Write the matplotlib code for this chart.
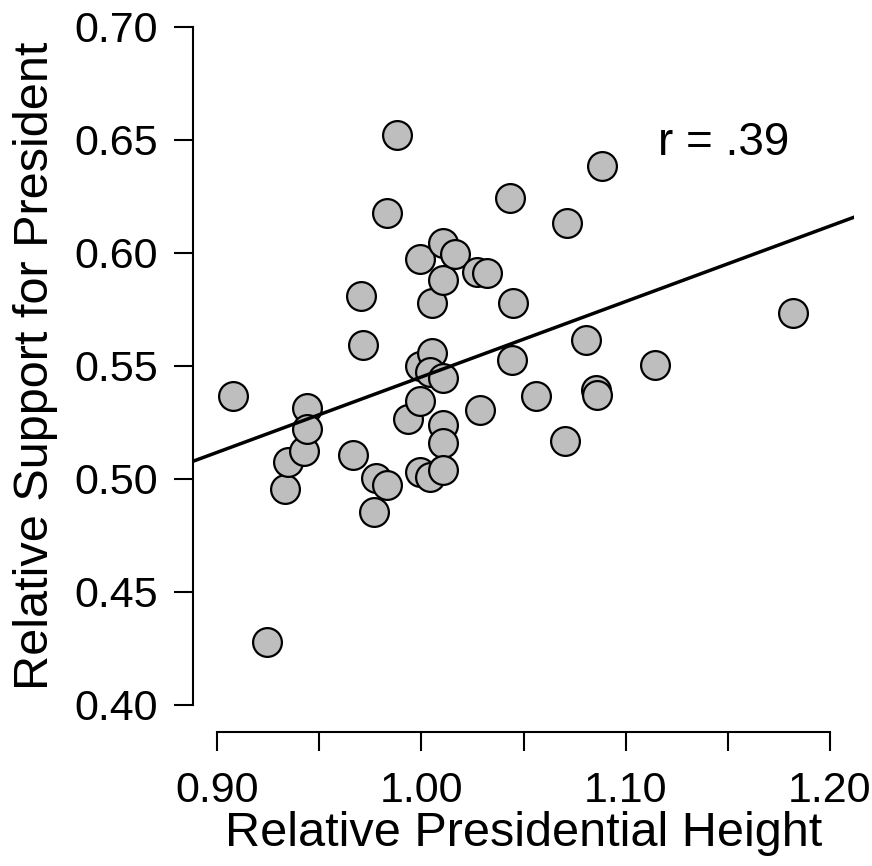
import numpy as np
import matplotlib.pyplot as plt

plt.rcParams['font.family'] = ['Liberation Sans', 'DejaVu Sans']

# Datos
altura = [0.9078, 0.9243, 0.9332, 0.9345, 0.9425, 0.9438, 0.9438, 0.9666,
          0.9705, 0.9712, 0.9777, 0.9769, 0.9833, 0.9831, 0.9881, 0.9935,
          0.9993, 0.9993, 0.9991, 0.9991, 1.0050, 1.0044, 1.0050, 1.0042,
          1.0104, 1.0104, 1.0107, 1.0107, 1.0107, 1.0104, 1.0164, 1.0270,
          1.0319, 1.0289, 1.0436, 1.0447, 1.0442, 1.0561, 1.0703, 1.0711,
          1.0806, 1.0855, 1.0859, 1.0882, 1.1144, 1.1821]
apoyo = [0.5366, 0.4279, 0.4956, 0.5074, 0.5122, 0.5314, 0.5221, 0.5103,
         0.5810, 0.5592, 0.5004, 0.4852, 0.4970, 0.6176, 0.6520, 0.5263,
         0.5970, 0.5500, 0.5029, 0.5344, 0.5554, 0.5472, 0.5775, 0.5007,
         0.6043, 0.5878, 0.5447, 0.5236, 0.5158, 0.5040, 0.5996, 0.5915,
         0.5912, 0.5302, 0.6243, 0.5776, 0.5527, 0.5367, 0.5167, 0.6132,
         0.5612, 0.5391, 0.5369, 0.6383, 0.5502, 0.5731]

# Recta de regresión (ordenada y pendiente)
ordenada = 0.2113
pendiente = 0.3337

xticks = [0.90, 0.95, 1.00, 1.05, 1.10, 1.15, 1.20]
xlabels = ['0.90', '', '1.00', '', '1.10', '', '1.20']
yticks = [0.40, 0.45, 0.50, 0.55, 0.60, 0.65, 0.70]
ylabels = ['%.2f' % v for v in yticks]

fig = plt.figure(figsize=(8.72, 8.66), dpi=100)
ax = fig.add_axes([0.2210, 0.1551, 0.7588, 0.8454])

ax.scatter(altura, apoyo, s=430, c='#bebebe', edgecolors='black',
           linewidths=1.6, zorder=2, clip_on=False)

xl = np.array([0.888, 1.212])
ax.plot(xl, ordenada + pendiente * xl, color='black', linewidth=2.5, zorder=3)

ax.set_xlim(0.888, 1.212)
ax.set_ylim(0.388, 0.712)

ax.text(1.1481, 0.6485, 'r = .39', fontsize=33, ha='center', va='center')

for s in ['top', 'right']:
    ax.spines[s].set_visible(False)
ax.spines['left'].set_bounds(0.40, 0.70)
ax.spines['bottom'].set_bounds(0.90, 1.20)
ax.spines['left'].set_linewidth(1.5)
ax.spines['bottom'].set_linewidth(1.5)

ax.set_xticks(xticks)
ax.set_xticklabels(xlabels)
ax.set_yticks(yticks)
ax.set_yticklabels(ylabels)
ax.tick_params(axis='both', direction='out', length=14, width=1.5,
               labelsize=31)
ax.tick_params(axis='x', pad=14)
ax.tick_params(axis='y', pad=11)

ax.set_xlabel('Relative Presidential Height', fontsize=35, labelpad=0)
ax.set_ylabel('Relative Support for President', fontsize=35, labelpad=12)

plt.savefig('out.png', dpi=100)
